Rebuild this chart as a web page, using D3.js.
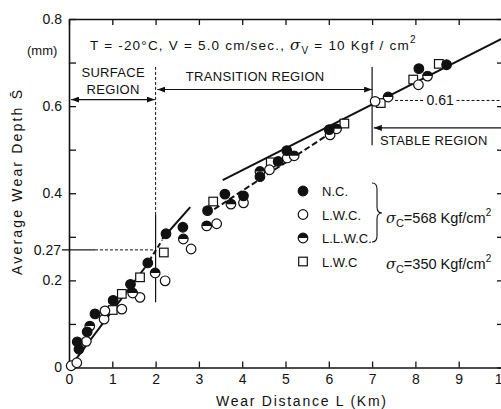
<!DOCTYPE html>
<html>
<head>
<meta charset="utf-8">
<script src="https://cdn.jsdelivr.net/npm/d3@7"></script>
<style>
  body { margin: 0; background: #fff; }
  svg { display: block; }
  text { font-family: "Liberation Sans", Arial, sans-serif; fill: #111; }
</style>
</head>
<body>
<div id="chart-area"></div>
<script>
// tick values
const xTickValues = [0, 1, 2, 3, 4, 5, 6, 7, 8, 9, 10];
const xTickLabels = ["0", "1", "2", "3", "4", "5", "6", "7", "8", "9", "10"];
const yTickValues = [0, 0.1, 0.2, 0.3, 0.4, 0.5, 0.6, 0.7, 0.8];
const yTickLabels = ["0", "", "0.2", "", "0.4", "", "0.6", "", "0.8"];

// measured points [L (km), depth (mm)]
const ncPoints = [[0.19, 0.059], [0.23, 0.042], [0.42, 0.082], [0.60, 0.123], [1.02, 0.154],
  [1.42, 0.191], [1.82, 0.240], [2.24, 0.307], [2.63, 0.322], [3.20, 0.360], [3.60, 0.398],
  [4.03, 0.394], [4.41, 0.438], [4.83, 0.473], [5.03, 0.498], [6.01, 0.546], [8.08, 0.686],
  [8.72, 0.695]];
const lwcPoints = [[0.05, 0.004], [0.18, 0.011], [0.40, 0.060], [0.81, 0.111], [0.83, 0.130],
  [1.22, 0.134], [1.64, 0.161], [2.22, 0.199], [2.82, 0.272], [3.41, 0.330], [4.03, 0.378],
  [4.63, 0.454], [5.04, 0.481], [6.03, 0.534], [7.07, 0.611], [8.07, 0.649]];
const llwcPoints = [[0.48, 0.095], [1.47, 0.171], [1.99, 0.217], [2.64, 0.295], [3.18, 0.325],
  [3.74, 0.375], [4.41, 0.450], [5.20, 0.486], [6.18, 0.548], [7.37, 0.621], [8.28, 0.669]];
const lwc350Points = [[1.01, 0.132], [1.22, 0.169], [1.64, 0.207], [2.19, 0.264], [3.33, 0.381],
  [4.66, 0.471], [6.36, 0.560], [7.20, 0.607], [7.95, 0.661], [8.54, 0.697]];

// fitted lines
const surfaceSolid = [[0.06, 0.006], [1.75, 0.229]];
const surfaceDash = [[1.75, 0.229], [2.15, 0.292]];
const transitionSolid = [[2.15, 0.295], [2.8, 0.368]];
const transitionDash = [[3.18, 0.352], [6.45, 0.565]];
const stableSolid = [[3.55, 0.43], [10, 0.755]];

// annotation values
const knee = 0.27;
const stableLevel = 0.613;

const drawChart = () => {
  const chartSize = { width: 501, height: 409 };
  const margin = { left: 69, top: 19, right: -1, bottom: 41.5 };
  const width = chartSize.width - margin.left - margin.right;
  const height = chartSize.height - margin.top - margin.bottom;

  const svg = d3.select("#chart-area").append("svg")
    .attr("width", chartSize.width)
    .attr("height", chartSize.height);

  const defs = svg.append("defs");
  defs.append("marker")
    .attr("id", "arrow")
    .attr("viewBox", "0 0 8 6")
    .attr("refX", 8).attr("refY", 3)
    .attr("markerWidth", 8).attr("markerHeight", 6)
    .attr("markerUnits", "userSpaceOnUse")
    .attr("orient", "auto-start-reverse")
    .append("path").attr("d", "M0,0 L8,3 L0,6 Z").attr("fill", "#111");

  const g = svg.append("g").attr("transform", `translate(${margin.left}, ${margin.top})`);

  const x = d3.scaleLinear().domain([0, 10]).range([0, width]);
  const y = d3.scaleLinear().domain([0, 0.8]).range([height, 0]);

  // axes
  const styleAxis = sel => {
    sel.selectAll("path.domain").attr("stroke", "#111").attr("stroke-width", 1.6);
    sel.selectAll(".tick line").attr("stroke", "#111").attr("stroke-width", 1.3);
    sel.selectAll("text").attr("font-size", 14).attr("fill", "#111")
      .style("font-family", '"Liberation Sans", Arial, sans-serif');
  };

  g.append("g").attr("transform", `translate(0, ${height})`)
    .call(d3.axisBottom(x).tickValues(xTickValues).tickSize(-6).tickSizeOuter(0)
      .tickPadding(7).tickFormat((d, i) => xTickLabels[i]))
    .call(styleAxis);
  g.append("g")
    .call(d3.axisTop(x).tickValues(xTickValues).tickSize(-6).tickSizeOuter(0).tickFormat(""))
    .call(styleAxis);
  g.append("g")
    .call(d3.axisLeft(y).tickValues(yTickValues).tickSize(-7).tickSizeOuter(0)
      .tickPadding(7).tickFormat((d, i) => yTickLabels[i]))
    .call(styleAxis);
  g.append("g").attr("transform", `translate(${width}, 0)`)
    .call(d3.axisRight(y).tickValues(yTickValues).tickSize(-5).tickSizeOuter(0).tickFormat(""))
    .call(styleAxis);

  // 0.27 tick and label
  g.append("line").attr("x1", -7).attr("x2", 0).attr("y1", y(knee)).attr("y2", y(knee))
    .attr("stroke", "#111").attr("stroke-width", 1.3);
  g.append("text").attr("x", -8).attr("y", y(knee)).attr("dy", "0.35em")
    .attr("text-anchor", "end").attr("font-size", 14).text("0.27");

  const line = d3.line().x(d => x(d[0])).y(d => y(d[1]));
  const drawLine = (pts, dash, w) => g.append("path").attr("d", line(pts))
    .attr("fill", "none").attr("stroke", "#111").attr("stroke-width", w || 1.2)
    .attr("stroke-dasharray", dash || null);

  // guide lines
  drawLine([[0, knee], [0.6, knee]], null, 1.2);
  drawLine([[0.6, knee], [2, knee]], "3,2", 1);
  drawLine([[2, 0.69], [2, 0.35]], "3,2", 1);
  drawLine([[2, 0.35], [2, 0.15]], null, 1.2);
  drawLine([[7, 0.69], [7, 0.51]], null, 1.2);
  drawLine([[7.53, stableLevel], [8.22, stableLevel]], "3,2", 1);
  drawLine([[8.95, stableLevel], [10, stableLevel]], "3,2", 1);
  g.append("text").attr("x", x(8.57)).attr("y", y(stableLevel)).attr("dy", "0.35em")
    .attr("text-anchor", "middle").attr("font-size", 14).text("0.61");

  // region arrows
  const drawArrow = (x1, x2, yv, both) => g.append("line")
    .attr("x1", x(x1)).attr("x2", x(x2)).attr("y1", y(yv)).attr("y2", y(yv))
    .attr("stroke", "#111").attr("stroke-width", 1.1)
    .attr("marker-start", "url(#arrow)")
    .attr("marker-end", both ? "url(#arrow)" : null);
  drawArrow(0.05, 1.98, 0.615, true);
  drawArrow(2.04, 7.0, 0.638, true);
  drawArrow(7.04, 10.2, 0.55, false);

  const label = (txt, xv, yv, anchor, size) => g.append("text")
    .attr("x", x(xv)).attr("y", y(yv)).attr("text-anchor", anchor || "middle")
    .attr("font-size", size || 13).attr("letter-spacing", 0.3).text(txt);
  label("SURFACE", 1.02, 0.666);
  label("REGION", 1.02, 0.627);
  label("TRANSITION REGION", 4.3, 0.657);
  label("STABLE REGION", 7.18, 0.511, "start");

  // fitted lines
  drawLine(surfaceSolid, null, 2);
  drawLine(surfaceDash, "5,3", 2);
  drawLine(transitionSolid, null, 2);
  drawLine(transitionDash, "6,3", 2);
  drawLine(stableSolid, null, 2);

  // markers
  const r = 4.8;
  const halfTop = `M${-r},0 A${r},${r} 0 0 1 ${r},0 Z`;
  const drawSymbol = (sel, kind) => {
    if (kind === "square") {
      sel.append("rect").attr("x", -4.3).attr("y", -4.3).attr("width", 8.6).attr("height", 8.6)
        .attr("fill", "#fff").attr("stroke", "#111").attr("stroke-width", 1.2);
      return;
    }
    sel.append("circle").attr("r", r)
      .attr("fill", kind === "filled" ? "#111" : "#fff")
      .attr("stroke", "#111").attr("stroke-width", 1.2);
    if (kind === "half") sel.append("path").attr("d", halfTop).attr("fill", "#111");
  };
  const drawMarks = (points, kind) => {
    const sel = g.append("g").selectAll("g").data(points).enter().append("g")
      .attr("transform", d => `translate(${x(d[0])}, ${y(d[1])})`);
    drawSymbol(sel, kind);
  };
  drawMarks(lwc350Points, "square");
  drawMarks(lwcPoints, "open");
  drawMarks(llwcPoints, "half");
  drawMarks(ncPoints, "filled");

  // legend
  const legendItems = [["filled", "N.C."], ["open", "L.W.C."], ["half", "L.L.W.C."], ["square", "L.W.C"]];
  const legend = svg.append("g").attr("transform", "translate(303, 191)");
  legendItems.forEach(([kind, name], i) => {
    const row = legend.append("g").attr("transform", `translate(0, ${i * 23.5})`);
    drawSymbol(row, kind);
    row.append("text").attr("x", 19).attr("y", 5).attr("font-size", 13).text(name);
  });
  svg.append("path")
    .attr("d", "M372,183 Q377,183 377,189 L377,207 Q377,213 382,213 Q377,213 377,219 L377,236 Q377,242 372,242")
    .attr("fill", "none").attr("stroke", "#111").attr("stroke-width", 1.1);

  const sigma = (tx, ty, rest) => {
    const t = svg.append("text").attr("x", tx).attr("y", ty).attr("font-size", 14.5);
    t.append("tspan").attr("font-style", "italic").attr("font-family", "DejaVu Serif").text("σ");
    t.append("tspan").attr("font-size", 11).attr("dy", 4).text("C");
    t.append("tspan").attr("dy", -4).text(rest);
    t.append("tspan").attr("font-size", 10).attr("dy", -7).text("2");
  };
  sigma(386, 223, "=568 Kgf/cm");
  sigma(386, 269, "=350 Kgf/cm");

  // title and units
  const title = svg.append("text").attr("x", 90).attr("y", 50).attr("font-size", 13.5)
    .attr("letter-spacing", 1.2);
  title.append("tspan").text("T = -20°C,  V = 5.0 cm/sec.,  ");
  title.append("tspan").attr("font-style", "italic").attr("font-family", "DejaVu Serif").attr("font-size", 15).text("σ");
  title.append("tspan").attr("font-size", 10).attr("dy", 4).text("V");
  title.append("tspan").attr("dy", -4).text(" = 10 Kgf / cm");
  title.append("tspan").attr("font-size", 10).attr("dy", -7).text("2");

  svg.append("text").attr("x", 27).attr("y", 55).attr("font-size", 13).text("(mm)");

  // axis titles
  svg.append("text").attr("x", 216).attr("y", 406).attr("font-size", 14)
    .attr("textLength", 170).attr("lengthAdjust", "spacing").text("Wear  Distance  L (Km)");
  svg.append("text").attr("transform", "translate(22, 275) rotate(-90)")
    .attr("font-size", 14).attr("textLength", 185).attr("lengthAdjust", "spacing")
    .text("Average  Wear  Depth  S\u0304");
};

window.onload = drawChart;
</script>
</body>
</html>
